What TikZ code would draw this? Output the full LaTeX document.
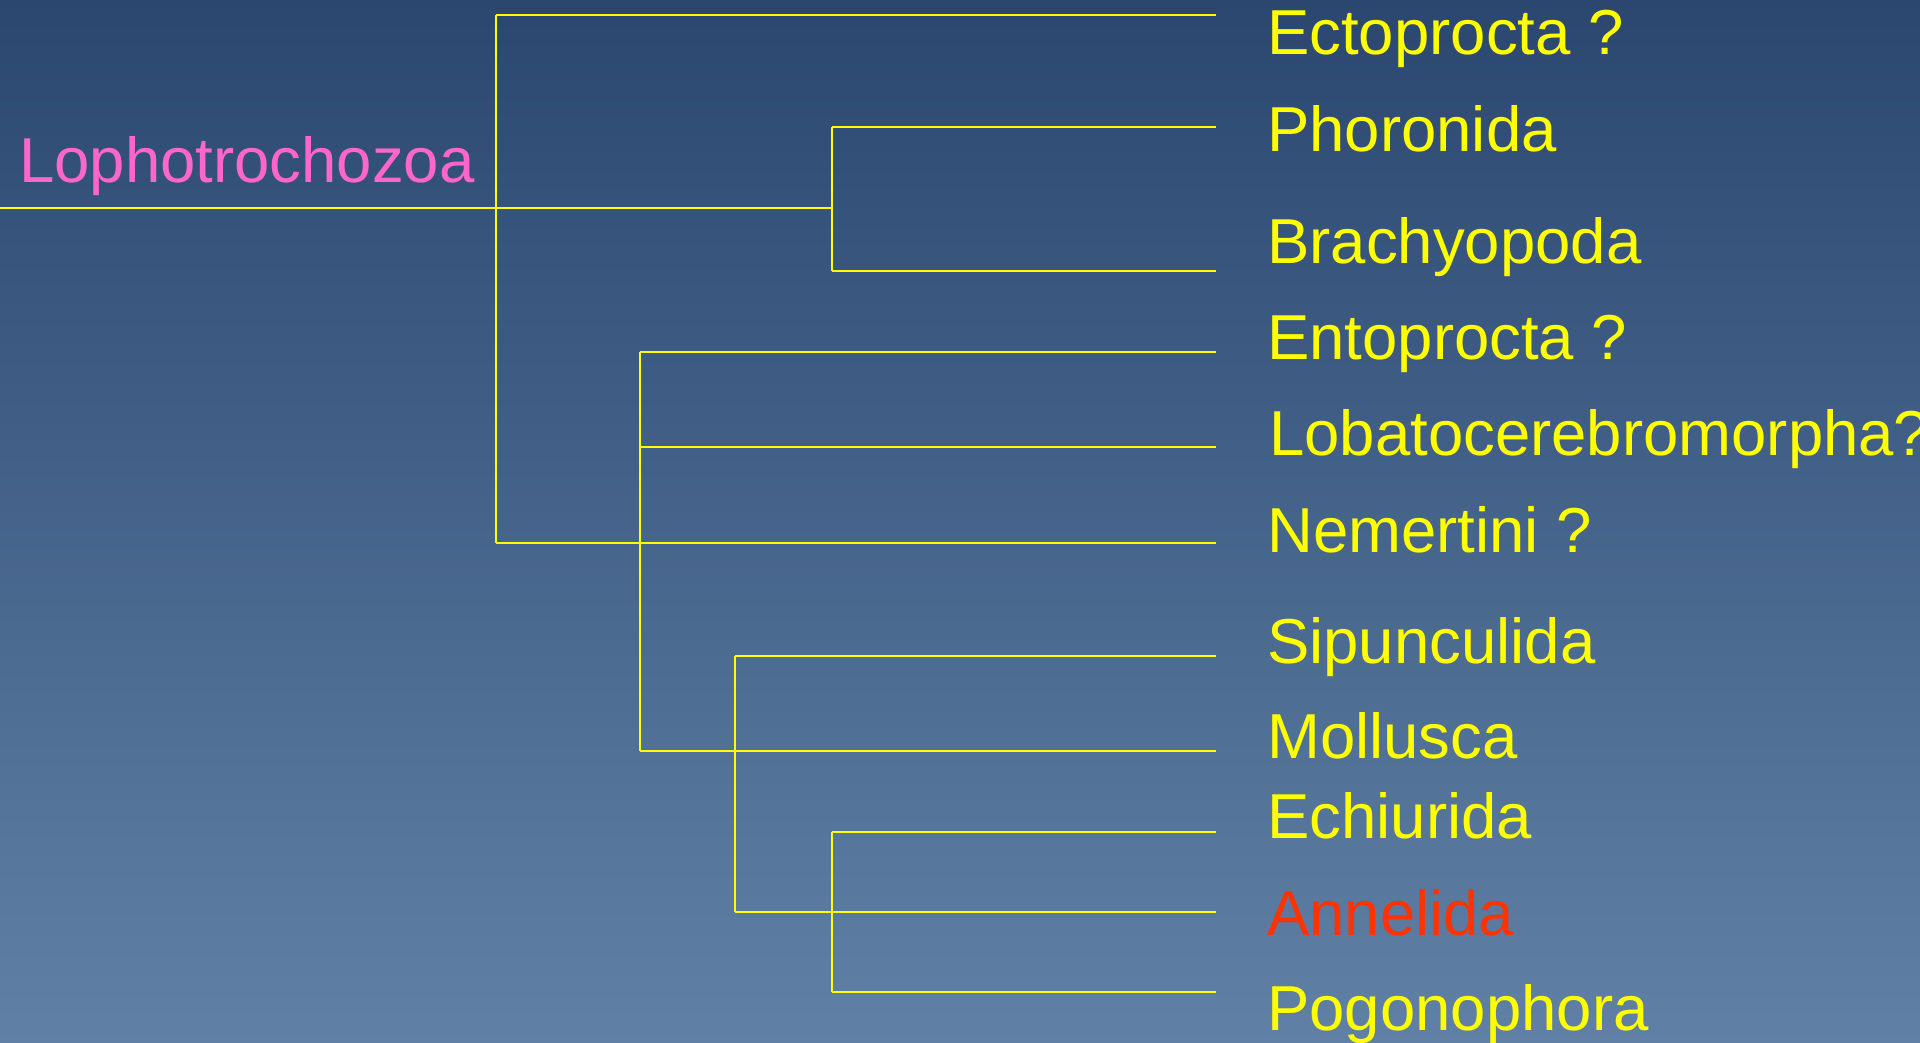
\documentclass[tikz,border=0pt]{standalone}
\usepackage{fontspec}
\setmainfont{Liberation Sans}
\definecolor{bgtop}{HTML}{2B4770}
\definecolor{bgbot}{HTML}{6081A5}
\definecolor{lineyellow}{HTML}{FFFF00}
\definecolor{cladepink}{HTML}{FF66CC}
\definecolor{annred}{HTML}{FF3300}
\tikzset{
  branch/.style={draw=lineyellow, line width=1.8pt},
  taxon/.style={anchor=base west, inner sep=0pt, text=lineyellow, font=\fontsize{63.5}{70}\selectfont},
}
\begin{document}
\begin{tikzpicture}[x=1pt,y=-1pt]
\useasboundingbox (0,0) rectangle (1920,1043);
\shade[top color=bgtop, bottom color=bgbot] (0,0) rectangle (1920,1043);

% labels
\node[taxon, text=cladepink] (loph) at (19,183) {Lophotrochozoa};
\node[taxon] (ecto) at (1267,55) {Ectoprocta ?};
\node[taxon] (phor) at (1267,152) {Phoronida};
\node[taxon] (brach) at (1267,263) {Brachyopoda};
\node[taxon] (ento) at (1267,359) {Entoprocta ?};
\node[taxon] (lobat) at (1269,455) {Lobatocerebromorpha?};
\node[taxon] (nemer) at (1267,552) {Nemertini ?};
\node[taxon] (sipun) at (1267,663) {Sipunculida};
\node[taxon] (moll) at (1267,758) {Mollusca};
\node[taxon] (echi) at (1267,838) {Echiurida};
\node[taxon, text=annred] (anne) at (1267,935) {Annelida};
\node[taxon] (pogo) at (1267,1030) {Pogonophora};

% junction coordinates
\coordinate (root) at (0,208);
\coordinate (jA1) at (496,15);
\coordinate (jA2) at (496,543);
\coordinate (jB) at (832,208);
\coordinate (jB1) at (832,127);
\coordinate (jB2) at (832,271);
\coordinate (jC1) at (640,352);
\coordinate (jC2) at (640,447);
\coordinate (jC3) at (640,751);
\coordinate (jD1) at (735,656);
\coordinate (jD2) at (735,912);
\coordinate (jE1) at (832,832);
\coordinate (jE2) at (832,992);
% tip coordinates
\coordinate (tEcto) at (1216,15);
\coordinate (tPhor) at (1216,127);
\coordinate (tBrach) at (1216,271);
\coordinate (tEnto) at (1216,352);
\coordinate (tLobat) at (1216,447);
\coordinate (tNemer) at (1216,543);
\coordinate (tSipun) at (1216,656);
\coordinate (tMoll) at (1216,751);
\coordinate (tEchi) at (1216,832);
\coordinate (tAnne) at (1216,912);
\coordinate (tPogo) at (1216,992);

% branches
\draw[branch] (root) -- (jB);
\draw[branch] (jA1) -- (jA2);
\draw[branch] (jA1) -- (tEcto);
\draw[branch] (jA2) -- (tNemer);
\draw[branch] (jB1) -- (jB2);
\draw[branch] (jB1) -- (tPhor);
\draw[branch] (jB2) -- (tBrach);
\draw[branch] (jC1) -- (jC3);
\draw[branch] (jC1) -- (tEnto);
\draw[branch] (jC2) -- (tLobat);
\draw[branch] (jC3) -- (tMoll);
\draw[branch] (jD1) -- (jD2);
\draw[branch] (jD1) -- (tSipun);
\draw[branch] (jD2) -- (tAnne);
\draw[branch] (jE1) -- (jE2);
\draw[branch] (jE1) -- (tEchi);
\draw[branch] (jE2) -- (tPogo);
\end{tikzpicture}
\end{document}
